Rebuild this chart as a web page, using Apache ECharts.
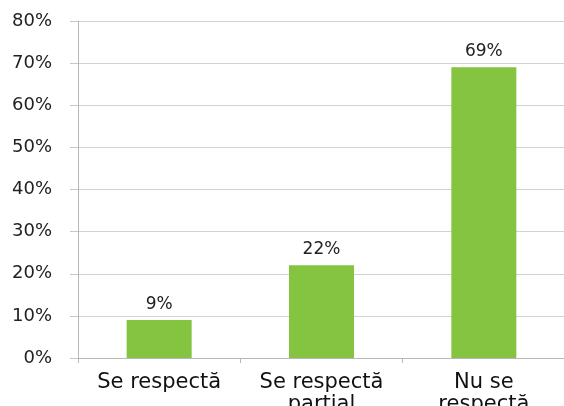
<!DOCTYPE html>
<html>
<head>
<meta charset="utf-8">
<script src="https://cdn.jsdelivr.net/npm/echarts@6/dist/echarts.min.js"></script>
<style>html,body{margin:0;padding:0;background:#fff}#c{width:564px;height:406px}</style>
</head>
<body>
<div id="c"></div>
<script>
// Survey answers and their shares (percent)
const categories = ['Se respectă', 'Se respectă\nparțial', 'Nu se\nrespectă'];
const shares = [9, 22, 69];
const yTicks = [0, 10, 20, 30, 40, 50, 60, 70, 80];

const chart = echarts.init(document.getElementById('c'), null, { renderer: 'canvas' });
chart.setOption({
  animation: false,
  grid: { left: 78, right: -1, top: 21, bottom: 48, containLabel: false, outerBoundsMode: 'none' },
  xAxis: {
    type: 'category',
    data: categories,
    axisLine: { lineStyle: { color: '#b8b8b8', width: 1 } },
    axisTick: { show: true, length: 5, lineStyle: { color: '#b8b8b8' } },
    axisLabel: {
      color: '#111', fontFamily: 'DejaVu Sans, Verdana, sans-serif', fontSize: 21,
      lineHeight: 22, margin: 14, interval: 0
    }
  },
  yAxis: {
    type: 'value',
    min: yTicks[0], max: yTicks[yTicks.length - 1], interval: 10,
    axisLine: { show: true, lineStyle: { color: '#b8b8b8' } },
    axisTick: { show: true, length: 8, lineStyle: { color: '#c8c8c8' } },
    splitLine: { lineStyle: { color: '#d2d2d2', width: 1 } },
    axisLabel: {
      formatter: '{value}%', color: '#222', fontFamily: 'DejaVu Sans, Verdana, sans-serif',
      fontSize: 18, margin: 26
    }
  },
  series: [{
    type: 'bar',
    data: shares,
    barWidth: 65,
    itemStyle: { color: '#84c441' },
    label: {
      show: true, position: 'top', distance: 7, formatter: '{c}%',
      color: '#222', fontFamily: 'DejaVu Sans, sans-serif', fontSize: 17
    }
  }]
});
</script>
</body>
</html>
